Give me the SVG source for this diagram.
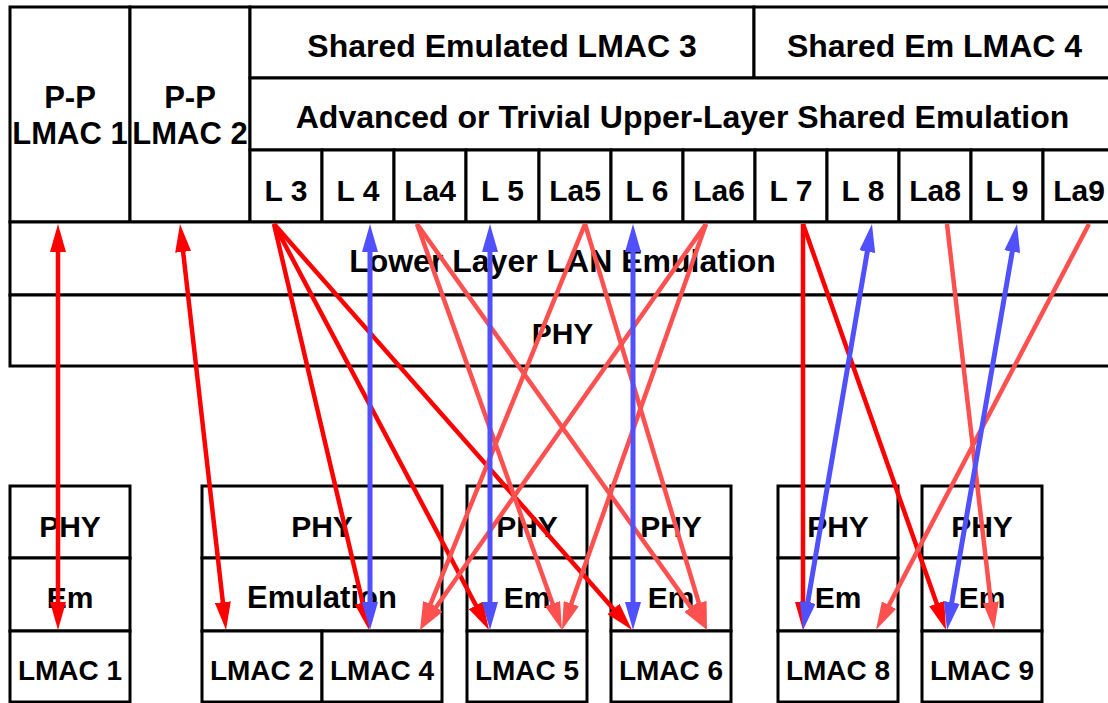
<svg xmlns="http://www.w3.org/2000/svg" width="1108" height="703" viewBox="0 0 1108 703">
<style>
rect{fill:#fff;stroke:#000;stroke-width:3}
text{font-family:"Liberation Sans",Arial,sans-serif;font-weight:bold;text-anchor:middle;fill:#000}
.t32{font-size:32px}.t31{font-size:31px}.t30{font-size:30px}.t28{font-size:28px}
.c line{stroke-width:4.5;fill:none}
.r{stroke:#ff0000}.lr{stroke:#ff5050}.c .b{stroke:#5050ff;stroke-width:5}
</style>
<defs>
<marker id="mr" viewBox="0 0 28 16" refX="18" refY="8" markerWidth="28" markerHeight="16" markerUnits="userSpaceOnUse" orient="auto-start-reverse"><path d="M0,0L28,8L0,16z" fill="#ff0000"/></marker>
<marker id="ml" viewBox="0 0 28 16" refX="18" refY="8" markerWidth="28" markerHeight="16" markerUnits="userSpaceOnUse" orient="auto-start-reverse"><path d="M0,0L28,8L0,16z" fill="#ff5050"/></marker>
<marker id="mb" viewBox="0 0 28 16" refX="18" refY="8" markerWidth="28" markerHeight="16" markerUnits="userSpaceOnUse" orient="auto-start-reverse"><path d="M0,0L28,8L0,16z" fill="#5050ff"/></marker>
</defs>

<g id="pp-lmac1"><rect x="10" y="7" width="120" height="215"/><text class="t31" x="70" y="108">P-P</text><text class="t31" x="70" y="144">LMAC 1</text></g>
<g id="pp-lmac2"><rect x="130" y="7" width="120" height="215"/><text class="t31" x="190" y="108">P-P</text><text class="t31" x="190" y="144">LMAC 2</text></g>
<g id="shared3"><rect x="250" y="7" width="504" height="71"/><text class="t32" x="502" y="57">Shared Emulated LMAC 3</text></g>
<g id="shared4"><rect x="754" y="7" width="361" height="71"/><text class="t32" x="934.5" y="57">Shared Em LMAC 4</text></g>
<g id="advanced"><rect x="250" y="78" width="865" height="72"/><text class="t32" x="682.5" y="128">Advanced or Trivial Upper-Layer Shared Emulation</text></g>
<g id="cell-l3"><rect x="250" y="150" width="72" height="72"/><text class="t30" x="286" y="201">L 3</text></g>
<g id="cell-l4"><rect x="322" y="150" width="72" height="72"/><text class="t30" x="358" y="201">L 4</text></g>
<g id="cell-la4"><rect x="394" y="150" width="72" height="72"/><text class="t30" x="430" y="201">La4</text></g>
<g id="cell-l5"><rect x="466" y="150" width="73" height="72"/><text class="t30" x="502.5" y="201">L 5</text></g>
<g id="cell-la5"><rect x="539" y="150" width="72" height="72"/><text class="t30" x="575" y="201">La5</text></g>
<g id="cell-l6"><rect x="611" y="150" width="72" height="72"/><text class="t30" x="647" y="201">L 6</text></g>
<g id="cell-la6"><rect x="683" y="150" width="72" height="72"/><text class="t30" x="719" y="201">La6</text></g>
<g id="cell-l7"><rect x="755" y="150" width="72" height="72"/><text class="t30" x="791" y="201">L 7</text></g>
<g id="cell-l8"><rect x="827" y="150" width="72" height="72"/><text class="t30" x="863" y="201">L 8</text></g>
<g id="cell-la8"><rect x="899" y="150" width="72" height="72"/><text class="t30" x="935" y="201">La8</text></g>
<g id="cell-l9"><rect x="971" y="150" width="72" height="72"/><text class="t30" x="1007" y="201">L 9</text></g>
<g id="cell-la9"><rect x="1043" y="150" width="72" height="72"/><text class="t30" x="1079" y="201">La9</text></g>
<g id="lower-emulation"><rect x="10" y="222" width="1105" height="73"/><text class="t32" x="562.5" y="272">Lower Layer LAN Emulation</text></g>
<g id="phy-main"><rect x="10" y="295" width="1105" height="71"/><text class="t30" x="562.5" y="344">PHY</text></g>

<g id="stack1"><rect x="10" y="486" width="120" height="72"/><text class="t30" x="70" y="537">PHY</text><rect x="10" y="558" width="120" height="73"/><text class="t30" x="70" y="608">Em</text><rect x="10" y="631" width="120" height="71"/><text class="t28" x="70" y="680">LMAC 1</text></g>
<g id="stack2"><rect x="202" y="486" width="240" height="72"/><text class="t30" x="322" y="537">PHY</text><rect x="202" y="558" width="240" height="73"/><text class="t31" x="322" y="608">Emulation</text><rect x="202" y="631" width="120" height="71"/><text class="t28" x="262" y="680">LMAC 2</text><rect x="322" y="631" width="120" height="71"/><text class="t28" x="382" y="680">LMAC 4</text></g>
<g id="stack5"><rect x="467" y="486" width="120" height="72"/><text class="t30" x="527" y="537">PHY</text><rect x="467" y="558" width="120" height="73"/><text class="t30" x="527" y="608">Em</text><rect x="467" y="631" width="120" height="71"/><text class="t28" x="527" y="680">LMAC 5</text></g>
<g id="stack6"><rect x="611" y="486" width="120" height="72"/><text class="t30" x="671" y="537">PHY</text><rect x="611" y="558" width="120" height="73"/><text class="t30" x="671" y="608">Em</text><rect x="611" y="631" width="120" height="71"/><text class="t28" x="671" y="680">LMAC 6</text></g>
<g id="stack8"><rect x="778" y="486" width="120" height="72"/><text class="t30" x="838" y="537">PHY</text><rect x="778" y="558" width="120" height="73"/><text class="t30" x="838" y="608">Em</text><rect x="778" y="631" width="120" height="71"/><text class="t28" x="838" y="680">LMAC 8</text></g>
<g id="stack9"><rect x="922" y="486" width="120" height="72"/><text class="t30" x="982" y="537">PHY</text><rect x="922" y="558" width="120" height="73"/><text class="t30" x="982" y="608">Em</text><rect x="922" y="631" width="120" height="71"/><text class="t28" x="982" y="680">LMAC 9</text></g>

<g id="connectors" class="c">
<line class="r" x1="58" y1="234" x2="58" y2="620" marker-start="url(#mr)" marker-end="url(#mr)"/>
<line class="r" x1="181.1" y1="233.9" x2="224.9" y2="620.1" marker-start="url(#mr)" marker-end="url(#mr)"/>
<line class="r" x1="274" y1="224" x2="366.7" y2="620.3" marker-end="url(#mr)"/>
<line class="r" x1="274" y1="224" x2="484.3" y2="621.2" marker-end="url(#mr)"/>
<line class="r" x1="274" y1="224" x2="625.4" y2="622.5" marker-end="url(#mr)"/>
<line class="lr" x1="417" y1="224" x2="558.6" y2="620.6" marker-end="url(#ml)"/>
<line class="lr" x1="417" y1="224" x2="701.2" y2="621.9" marker-end="url(#ml)"/>
<line class="lr" x1="585" y1="224" x2="423.8" y2="620.7" marker-end="url(#ml)"/>
<line class="lr" x1="585" y1="224" x2="704.1" y2="620.4" marker-end="url(#ml)"/>
<line class="lr" x1="706" y1="224" x2="425.8" y2="621.8" marker-end="url(#ml)"/>
<line class="lr" x1="706" y1="224" x2="565.3" y2="620.6" marker-end="url(#ml)"/>
<line class="b" x1="370" y1="234" x2="370" y2="620" marker-start="url(#mb)" marker-end="url(#mb)"/>
<line class="b" x1="490" y1="234" x2="490" y2="620" marker-start="url(#mb)" marker-end="url(#mb)"/>
<line class="b" x1="633" y1="234" x2="633" y2="620" marker-start="url(#mb)" marker-end="url(#mb)"/>
<line class="r" x1="803" y1="224" x2="803" y2="620" marker-end="url(#mr)"/>
<line class="r" x1="803" y1="224" x2="942.7" y2="620.6" marker-end="url(#mr)"/>
<line class="lr" x1="947" y1="224" x2="992.9" y2="620.1" marker-end="url(#ml)"/>
<line class="lr" x1="1089" y1="224" x2="880.6" y2="621.1" marker-end="url(#ml)"/>
<line class="b" x1="870.3" y1="233.9" x2="804.7" y2="620.1" marker-start="url(#mb)" marker-end="url(#mb)"/>
<line class="b" x1="1015.3" y1="233.9" x2="948.7" y2="620.1" marker-start="url(#mb)" marker-end="url(#mb)"/>
</g>
</svg>
